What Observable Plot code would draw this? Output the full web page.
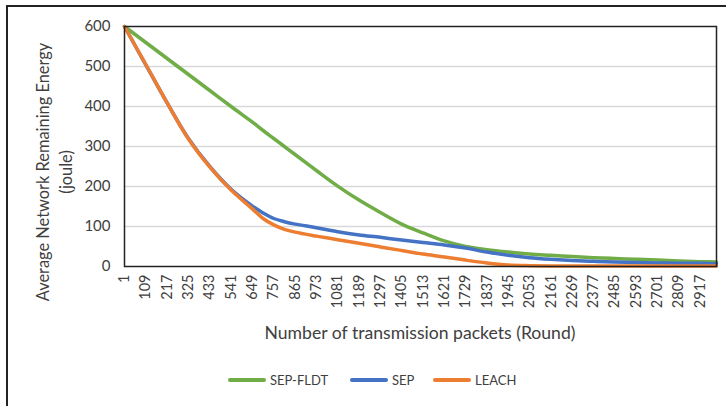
<!DOCTYPE html>
<html>
<head>
<meta charset="utf-8">
<script src="https://cdn.jsdelivr.net/npm/d3@7"></script>
<script src="https://cdn.jsdelivr.net/npm/@observablehq/plot@0.6"></script>
<style>
  html, body { margin: 0; padding: 0; background: #fff; }
  #wrap { position: relative; width: 726px; height: 406px; overflow: hidden; font-family: Lato, "Open Sans", sans-serif; color: #404040; }
  #border { position: absolute; left: 6px; top: 5px; width: 740px; height: 420px; border-left: 2px solid #222; border-top: 2px solid #222; box-sizing: border-box; }
  #chart { position: absolute; left: 0; top: 0; }
  .ytitle { position: absolute; left: 54px; top: 172px; transform: translate(-50%, -50%) rotate(-90deg); white-space: nowrap; text-align: center; font-size: 16.4px; line-height: 23px; color: #404040; }
  .xtitle { position: absolute; left: 420px; top: 332px; transform: translate(-50%, -50%); white-space: nowrap; font-size: 17.6px; color: #404040; }
  #legend { position: absolute; left: 0; width: 726px; top: 370px; height: 20px; }
  .item { position: absolute; top: 0; height: 20px; display: flex; align-items: center; gap: 4px; font-size: 13px; color: #404040; }
  .swatch { width: 38px; height: 3.5px; border-radius: 2px; }
</style>
</head>
<body>
<div id="wrap">
  <div id="chart"></div>
  <div id="border"></div>
  <div class="ytitle">Average Network Remaining Energy<br>(joule)</div>
  <div class="xtitle">Number of transmission packets (Round)</div>
  <div id="legend"></div>
</div>
<script>
const rounds  = [1, 109, 217, 325, 433, 541, 649, 703, 757, 811, 865, 973, 1081, 1189, 1297, 1405, 1513, 1621, 1729, 1837, 1945, 2053, 2161, 2269, 2377, 2485, 2593, 2701, 2809, 2917, 3000];
const sepFldt = [600, 560, 520, 480, 440, 400, 361, 340, 320, 300, 280, 240, 201, 166, 135, 106, 84, 64, 50, 42, 36, 31, 28, 25, 22, 20, 18, 16, 14, 12, 11];
const sep     = [600, 504, 409, 320, 250, 193, 151, 134, 120, 112, 106, 97, 87, 79, 73, 66, 60, 54, 46, 36, 28, 22, 18, 15, 13, 11, 10, 9, 8, 8, 7];
const leach   = [600, 505, 409, 319, 249, 191, 144, 120, 104, 93, 86, 76, 67, 58, 49, 40, 31, 24, 16, 9, 4, 2, 1, 1, 1, 1, 1, 1, 1, 1, 1];
const tickLabels = [1, 109, 217, 325, 433, 541, 649, 757, 865, 973, 1081, 1189, 1297, 1405, 1513, 1621, 1729, 1837, 1945, 2053, 2161, 2269, 2377, 2485, 2593, 2701, 2809, 2917];
const yTicks = [0, 100, 200, 300, 400, 500, 600];
const seriesNames = ["SEP-FLDT", "SEP", "LEACH"];
const seriesColors = ["#70ad47", "#4472c4", "#ed7d31"];
const seriesValues = [sepFldt, sep, leach];

const data = [];
seriesNames.forEach((name, i) => {
  rounds.forEach((r, j) => data.push({series: name, round: r, value: seriesValues[i][j]}));
});

const chart = Plot.plot({
  width: 726,
  height: 350,
  marginLeft: 124,
  marginRight: 10,
  marginTop: 26,
  marginBottom: 84,
  style: {fontFamily: "Lato, 'Open Sans', sans-serif", fontSize: "14.5px", color: "#404040", background: "transparent"},
  x: {domain: [1, 3000], ticks: tickLabels, tickFormat: d => String(d), tickRotate: -90, tickSize: 0, tickPadding: 8, label: null},
  y: {domain: [0, 600], ticks: yTicks, tickSize: 0, tickPadding: 14, label: null},
  color: {domain: seriesNames, range: seriesColors},
  marks: [
    Plot.gridY(yTicks.filter(d => d > 0 && d < 600), {stroke: "#d9d9d9", strokeOpacity: 1, strokeWidth: 1.3}),
    Plot.axisY({ticks: yTicks, tickSize: 0, tickPadding: 14, fontSize: 15, label: null}),
    Plot.line(data, {x: "round", y: "value", z: "series", stroke: "series", strokeWidth: 3.5, curve: "catmull-rom"}),
    Plot.frame({stroke: "#222", strokeWidth: 1.5})
  ]
});
document.getElementById("chart").appendChild(chart);

const legend = document.getElementById("legend");
const legendLeft = [228, 350, 433];
seriesNames.forEach((name, i) => {
  const it = document.createElement("div");
  it.className = "item";
  it.style.left = legendLeft[i] + "px";
  const sw = document.createElement("div");
  sw.className = "swatch";
  sw.style.background = seriesColors[i];
  const tx = document.createElement("span");
  tx.textContent = name;
  it.appendChild(sw); it.appendChild(tx);
  legend.appendChild(it);
});
</script>
</body>
</html>
